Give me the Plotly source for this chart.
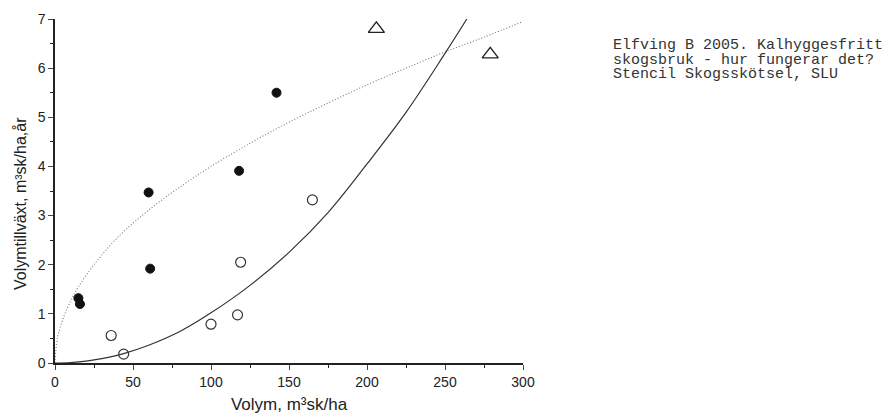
import plotly.graph_objects as go

# Data
filled_x = [15, 16, 60, 61, 118, 142]
filled_y = [1.32, 1.20, 3.47, 1.92, 3.91, 5.50]

open_x = [36, 44, 100, 117, 119, 165]
open_y = [0.56, 0.18, 0.79, 0.98, 2.05, 3.32]

tri_x = [206, 279]
tri_y = [6.80, 6.28]

# dotted fitted curve
dot_x = [0, 1, 2, 5, 10, 15, 25, 40, 60, 80, 100, 125, 150, 175, 200, 225, 250, 275, 300]
dot_y = [0, 0.40, 0.57, 0.89, 1.26, 1.55, 2.0, 2.55, 3.11, 3.58, 4.0, 4.47, 4.9, 5.29, 5.66, 6.0, 6.33, 6.63, 6.95]

# solid fitted curve
sol_x = [0, 10, 20, 30, 44, 60, 80, 100, 125, 150, 175, 200, 225, 250, 264]
sol_y = [0, 0.01, 0.04, 0.09, 0.19, 0.36, 0.64, 1.02, 1.58, 2.25, 3.06, 4.05, 5.10, 6.30, 7.0]

x_ticks = [0, 50, 100, 150, 200, 250, 300]
y_ticks = [0, 1, 2, 3, 4, 5, 6, 7]

ref_lines = ["Elfving B 2005. Kalhyggesfritt",
             "skogsbruk - hur fungerar det?",
             "Stencil Skogsskötsel, SLU"]

fig = go.Figure()
fig.add_trace(go.Scatter(x=dot_x, y=dot_y, mode="lines", line=dict(color="#777", width=1.1, dash="1px,2px", shape="spline"), hoverinfo="skip"))
fig.add_trace(go.Scatter(x=sol_x, y=sol_y, mode="lines", line=dict(color="#333", width=1.2, shape="spline"), hoverinfo="skip"))
fig.add_trace(go.Scatter(x=filled_x, y=filled_y, mode="markers", cliponaxis=False,
                         marker=dict(symbol="circle", size=9, color="#111", line=dict(color="#111", width=1))))
fig.add_trace(go.Scatter(x=open_x, y=open_y, mode="markers", cliponaxis=False,
                         marker=dict(symbol="circle-open", size=10, color="#333", line=dict(width=1.2))))
fig.add_trace(go.Scatter(x=tri_x, y=tri_y, mode="markers", cliponaxis=False,
                         marker=dict(symbol="triangle-up-open", size=14, color="#222", line=dict(width=1.4))))

for i, t in enumerate(ref_lines):
    fig.add_annotation(text=t, xref="paper", yref="paper", x=(611-55)/468, y=(363-45-i*15)/344,
                       xanchor="left", yanchor="middle", showarrow=False,
                       font=dict(family="Liberation Mono, Courier New, monospace", size=15, color="#333"))

# y-axis title as annotation to match its position
fig.add_annotation(text="Volymtillväxt, m³sk/ha,år", xref="paper", yref="paper",
                   x=(20-55)/468, y=(363-204)/344, textangle=-90, showarrow=False,
                   xanchor="center", yanchor="middle", font=dict(size=16, color="#222"))

fig.update_layout(
    width=894, height=414,
    margin=dict(l=55, r=371, t=19, b=51, autoexpand=False),
    paper_bgcolor="white", plot_bgcolor="white",
    showlegend=False,
    font=dict(family="Liberation Sans, Arial, sans-serif", size=14, color="#222"),
)
fig.update_xaxes(range=[0, 300], tickvals=x_ticks, ticks="outside", ticklen=5, tickwidth=1.2,
                 showline=True, linecolor="#222", linewidth=1.5, showgrid=False, zeroline=False, automargin=False,
                 minor=dict(tickvals=[25, 75, 125, 175, 225, 275], ticks="outside", ticklen=3, tickcolor="#222"),
                 title=dict(text="Volym, m³sk/ha", standoff=12), tickfont=dict(size=14))
fig.update_yaxes(range=[0, 7], tickvals=y_ticks, ticks="outside", ticklen=5, tickwidth=1.2,
                 showline=True, linecolor="#222", linewidth=1.5, showgrid=False, zeroline=False, automargin=False,
                 minor=dict(tickvals=[0.5, 1.5, 2.5, 3.5, 4.5, 5.5, 6.5], ticks="outside", ticklen=3, tickcolor="#222"),
                 tickfont=dict(size=14))

fig.write_html("out.html")
